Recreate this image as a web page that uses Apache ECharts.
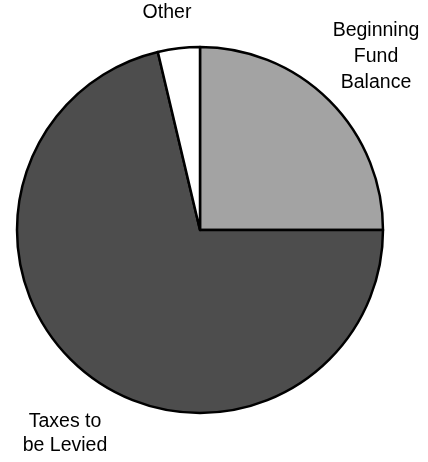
<!DOCTYPE html>
<html>
<head>
<meta charset="utf-8">
<script src="https://cdn.jsdelivr.net/npm/echarts@6/dist/echarts.min.js"></script>
<style>
  html, body { margin: 0; padding: 0; background: #fff; }
  #chart { width: 428px; height: 462px; }
</style>
</head>
<body>
<div id="chart"></div>
<script>
const categories = ["Beginning\nFund\nBalance", "Taxes to\nbe Levied", "Other"];
const shares = [25, 71.3, 3.7];
const sliceColors = ["#a3a3a3", "#4d4d4d", "#ffffff"];
// where each label sits (centre of text block)
const labelSpots = [
  { x: 376, y: 57, lh: 26 },
  { x: 65, y: 434, lh: 24 },
  { x: 167, y: 13, lh: 24 }
];

const chart = echarts.init(document.getElementById("chart"));

const option = {
  animation: false,
  series: [
    {
      type: "pie",
      center: [200, 230],
      radius: [0, 183],
      startAngle: 90,
      clockwise: true,
      itemStyle: {
        borderColor: "#000",
        borderWidth: 2.5
      },
      label: {
        show: true,
        color: "#000",
        fontFamily: "Liberation Sans, Arial, sans-serif",
        fontSize: 19.5,
        align: "center",
        overflow: "none",
        formatter: "{b}"
      },
      labelLine: { show: false },
      labelLayout: function (params) {
        const p = labelSpots[params.dataIndex];
        return { x: p.x, y: p.y, align: "center", verticalAlign: "middle" };
      },
      emphasis: { disabled: true },
      data: categories.map((name, i) => ({
        name: name,
        value: shares[i],
        itemStyle: { color: sliceColors[i] },
        label: { lineHeight: labelSpots[i].lh }
      }))
    }
  ]
};

chart.setOption(option);
</script>
</body>
</html>
